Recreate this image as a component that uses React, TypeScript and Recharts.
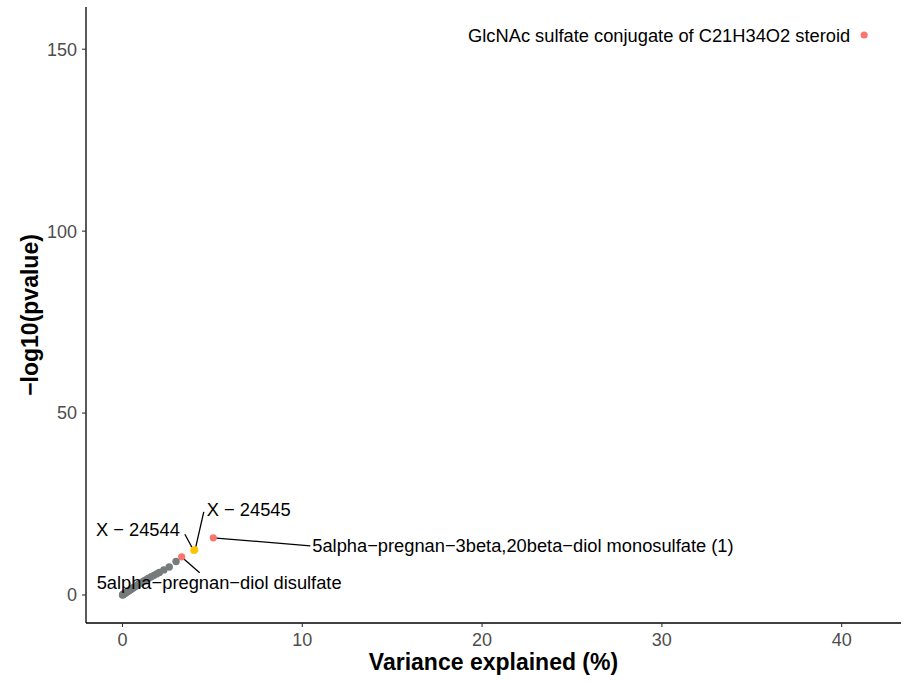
import { ScatterChart, Scatter, XAxis, YAxis, Label } from "recharts";

// background metabolites (grey)
const bgVariance = [
  0, 0.02, 0.04, 0.06, 0.08, 0.1, 0.13, 0.16, 0.2, 0.24, 0.28, 0.33, 0.38, 0.44, 0.5, 0.56, 0.63, 0.7,
  0.78, 0.86, 0.95, 1.05, 1.15, 1.25, 1.35, 1.45, 1.6, 1.75, 1.9, 2.05, 2.3, 2.6, 2.98,
];
const bgLogP = [
  0, 0.1, 0.15, 0.25, 0.3, 0.35, 0.45, 0.55, 0.7, 0.8, 0.95, 1.1, 1.25, 1.45, 1.65, 1.85, 2.05, 2.3,
  2.55, 2.8, 3.1, 3.4, 3.7, 4.0, 4.3, 4.6, 5.0, 5.4, 5.8, 6.2, 6.9, 7.7, 9.2,
];

// labelled metabolites
const hitNames = [
  "5alpha\u2212pregnan\u2212diol disulfate",
  "X \u2212 24544",
  "X \u2212 24545",
  "5alpha\u2212pregnan\u22123beta,20beta\u2212diol monosulfate (1)",
  "GlcNAc sulfate conjugate of C21H34O2 steroid",
];
const hitVariance = [3.29, 3.97, 4.02, 5.05, 41.25];
const hitLogP = [10.5, 12.3, 12.4, 15.7, 153.9];
const hitClass = ["steroid", "unknown", "unknown", "steroid", "steroid"];

const xTicks = [0, 10, 20, 30, 40];
const yTicks = [0, 50, 100, 150];

const COLORS: Record<string, string> = {
  steroid: "#F8766D",
  unknown: "#FFC300",
};

// label placement, pixel offsets from the point (text anchor and connector end)
const labelPlacement: Record<string, { dx: number; dy: number; anchor: string; line?: [number, number, number, number] }> = {
  [hitNames[0]]: { dx: -85, dy: 26, anchor: "start", line: [2, 2, 18, 16] },
  [hitNames[1]]: { dx: -14, dy: -21, anchor: "end", line: [-9, -16, -2, -3] },
  [hitNames[2]]: { dx: 12, dy: -40, anchor: "start", line: [9, -38, 1, -3] },
  [hitNames[3]]: { dx: 99, dy: 8, anchor: "start", line: [0, 0, 97, 8] },
  [hitNames[4]]: { dx: -14, dy: 0, anchor: "end" },
};

const bgData = bgVariance.map((v, i) => ({ x: v, y: bgLogP[i] }));
const hitData = hitNames.map((n, i) => ({ x: hitVariance[i], y: hitLogP[i], name: n, cls: hitClass[i] }));

const FONT = "'Liberation Sans', Arial, sans-serif";

const HitPoint = (props: any) => {
  const { cx, cy, payload } = props;
  const p = labelPlacement[payload.name];
  return (
    <g>
      {p.line && (
        <line
          x1={cx + p.line[0]}
          y1={cy + p.line[1]}
          x2={cx + p.line[2]}
          y2={cy + p.line[3]}
          stroke="#000"
          strokeWidth={1.3}
        />
      )}
      <circle cx={cx} cy={cy} r={3.6} fill={COLORS[payload.cls]} />
      <text
        x={cx + p.dx}
        y={cy + p.dy}
        textAnchor={p.anchor as any}
        dominantBaseline="central"
        fontSize={18.3}
        fontFamily={FONT}
        fill="#000"
      >
        {payload.name}
      </text>
    </g>
  );
};

const BgPoint = (props: any) => {
  const { cx, cy } = props;
  return <circle cx={cx} cy={cy} r={3.7} fill="#767c7c" />;
};

export default function App() {
  return (
    <div style={{ position: "absolute", left: 0, top: 0, background: "#fff" }}>
      <ScatterChart width={903} height={682} margin={{ top: 7, right: 2, bottom: 0, left: 0 }}>
        <XAxis
          type="number"
          dataKey="x"
          domain={[-2.03, 43.3]}
          ticks={xTicks}
          allowDataOverflow
          height={59}
          tickSize={4}
          tickMargin={6}
          axisLine={{ stroke: "#000", strokeWidth: 1.3 }}
          tickLine={{ stroke: "#333", strokeWidth: 1.1 }}
          tick={{ fill: "#4d4d4d", fontSize: 18, fontFamily: FONT }}
        >
          <Label
            content={({ viewBox }: any) => (
              <text
                x={viewBox.x + viewBox.width / 2}
                y={viewBox.y + 39}
                textAnchor="middle"
                dominantBaseline="central"
                fontSize={23}
                fontWeight="bold"
                fontFamily={FONT}
                fill="#000"
              >
                Variance explained (%)
              </text>
            )}
          />
        </XAxis>
        <YAxis
          type="number"
          dataKey="y"
          domain={[-7.7, 161.6]}
          ticks={yTicks}
          allowDataOverflow
          width={86}
          tickSize={4}
          tickMargin={5}
          axisLine={{ stroke: "#000", strokeWidth: 1.3 }}
          tickLine={{ stroke: "#333", strokeWidth: 1.1 }}
          tick={{ fill: "#4d4d4d", fontSize: 18, fontFamily: FONT }}
        >
          <Label
            content={({ viewBox }: any) => {
              const cx = viewBox.x + 30;
              const cy = viewBox.y + viewBox.height / 2;
              return (
                <text
                  x={cx}
                  y={cy}
                  transform={`rotate(-90, ${cx}, ${cy})`}
                  textAnchor="middle"
                  dominantBaseline="central"
                  fontSize={23}
                  fontWeight="bold"
                  fontFamily={FONT}
                  fill="#000"
                >
                  {"\u2212log10(pvalue)"}
                </text>
              );
            }}
          />
        </YAxis>
        <Scatter data={bgData} shape={BgPoint} isAnimationActive={false} />
        <Scatter data={hitData} shape={HitPoint} isAnimationActive={false} />
      </ScatterChart>
    </div>
  );
}
